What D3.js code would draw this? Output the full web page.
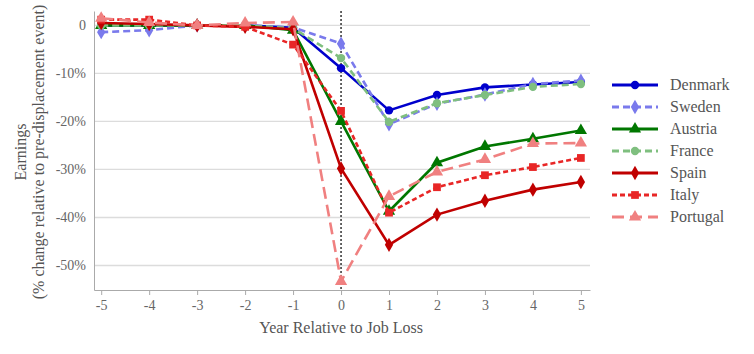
<!DOCTYPE html>
<html>
<head>
<meta charset="utf-8">
<script src="https://cdn.jsdelivr.net/npm/d3@7"></script>
<style>
  body { margin: 0; background: #fff; }
  svg, svg text { font-family: "Liberation Serif", "DejaVu Serif", serif; }
</style>
</head>
<body>
<svg id="chart" width="754" height="354"></svg>
<script>
const years = [-5, -4, -3, -2, -1, 0, 1, 2, 3, 4, 5];
const denmark = [0, 0, 0, 0, -0.5, -8.9, -17.7, -14.5, -12.9, -12.3, -11.8];
const sweden = [-1.4, -1.0, 0, 0, -0.4, -3.8, -20.6, -16.3, -14.4, -12.2, -11.5];
const austria = [0, 0, 0, 0, -1.0, -20.0, -38.7, -28.6, -25.2, -23.6, -21.9];
const france = [0, 0, 0, 0, -0.6, -6.8, -20.1, -16.2, -14.5, -12.8, -12.2];
const spain = [0.5, 0.3, 0, -0.3, -0.8, -29.8, -45.7, -39.4, -36.5, -34.2, -32.6];
const italy = [1.2, 1.2, 0, -0.3, -4.0, -17.8, -39.0, -33.7, -31.2, -29.5, -27.6];
const portugal = [1.5, 0.6, 0, 0.5, 0.7, -53.3, -35.6, -30.5, -27.9, -24.6, -24.5];
const yTicks = [0, -10, -20, -30, -40, -50];

const series = [
  { name: "Denmark", values: denmark, color: "#0000cc", dash: null, symbol: d3.symbolCircle, size: 55 },
  { name: "Sweden", values: sweden, color: "#7a7aec", dash: "7,4", symbol: d3.symbolDiamond, size: 60 },
  { name: "Austria", values: austria, color: "#007700", dash: null, symbol: d3.symbolTriangle, size: 65 },
  { name: "France", values: france, color: "#7fbf7f", dash: "7,4", symbol: d3.symbolCircle, size: 55 },
  { name: "Spain", values: spain, color: "#c00000", dash: null, symbol: d3.symbolDiamond, size: 60 },
  { name: "Italy", values: italy, color: "#e82626", dash: "5,3", symbol: d3.symbolSquare, size: 60 },
  { name: "Portugal", values: portugal, color: "#f08080", dash: "12,6", symbol: d3.symbolTriangle, size: 65 }
];

const svg = d3.select("#chart");
const plotLeft = 94, plotRight = 590, plotTop = 11, plotBottom = 290;

const x = d3.scaleLinear().domain([-5.15, 5.19]).range([plotLeft, plotRight]);
const y = d3.scaleLinear().domain([-55.1, 3.0]).range([plotBottom, plotTop]);

// gridlines
svg.append("g")
  .selectAll("line")
  .data(yTicks)
  .join("line")
  .attr("x1", plotLeft).attr("x2", plotRight)
  .attr("y1", (d) => y(d)).attr("y2", (d) => y(d))
  .attr("stroke", "#dcdcdc").attr("stroke-width", 1.3);

// y axis
const yAxis = svg.append("g")
  .attr("transform", `translate(${plotLeft},0)`)
  .call(d3.axisLeft(y).tickValues(yTicks).tickSize(0).tickPadding(8)
    .tickFormat((d) => (d === 0 ? "0" : String(d) + "%")));
yAxis.attr("font-family", "Liberation Serif, serif").attr("font-size", 14);
yAxis.select(".domain").attr("stroke", "#aaa");
yAxis.selectAll("text").attr("fill", "#666");

// x axis
const xAxis = svg.append("g")
  .attr("transform", `translate(0,${plotBottom})`)
  .call(d3.axisBottom(x).tickValues(years).tickSize(5).tickPadding(5).tickSizeOuter(0)
    .tickFormat((d) => String(d)));
xAxis.attr("font-family", "Liberation Serif, serif").attr("font-size", 14);
xAxis.select(".domain").attr("stroke", "#aaa");
xAxis.selectAll(".tick line").attr("stroke", "#aaa");
xAxis.selectAll("text").attr("fill", "#666");

// vertical dotted line at 0
svg.append("line")
  .attr("x1", x(0)).attr("x2", x(0))
  .attr("y1", y(3.0)).attr("y2", plotBottom)
  .attr("stroke", "#000").attr("stroke-width", 1.2)
  .attr("stroke-dasharray", "2,2");

const line = d3.line().x((d, i) => x(years[i])).y((d) => y(d));

const plot = svg.append("g");
series.forEach((s) => {
  plot.append("path")
    .datum(s.values)
    .attr("fill", "none")
    .attr("stroke", s.color)
    .attr("stroke-width", 2.6)
    .attr("stroke-dasharray", s.dash)
    .attr("d", line);
  plot.selectAll(null)
    .data(s.values)
    .join("path")
    .attr("transform", (d, i) => `translate(${x(years[i])},${y(d)})`)
    .attr("d", d3.symbol(s.symbol, s.size))
    .attr("fill", s.color);
});

// axis titles
svg.append("text")
  .attr("x", x(0)).attr("y", 333)
  .attr("text-anchor", "middle")
  .attr("fill", "#555")
  .style("font-size", "16px")
  .text("Year Relative to Job Loss");

const yl = svg.append("text")
  .attr("transform", "translate(0,152) rotate(-90)")
  .attr("text-anchor", "middle")
  .attr("fill", "#555")
  .style("font-size", "16px");
yl.append("tspan").attr("x", 0).attr("y", 26).text("Earnings");
yl.append("tspan").attr("x", 0).attr("y", 44).text("(% change relative to pre-displacement event)");

// legend
const legend = svg.append("g")
  .selectAll("g")
  .data(series)
  .join("g")
  .attr("transform", (d, i) => `translate(612,${85 + i * 22})`);
legend.append("line")
  .attr("x1", 0).attr("x2", 46)
  .attr("stroke", (d) => d.color)
  .attr("stroke-width", 3)
  .attr("stroke-dasharray", (d) => d.dash);
legend.append("path")
  .attr("transform", "translate(23,0)")
  .attr("d", (d) => d3.symbol(d.symbol, d.size)())
  .attr("fill", (d) => d.color);
legend.append("text")
  .attr("x", 58).attr("y", 5)
  .attr("fill", "#555")
  .style("font-size", "16px")
  .text((d) => d.name);
</script>
</body>
</html>
